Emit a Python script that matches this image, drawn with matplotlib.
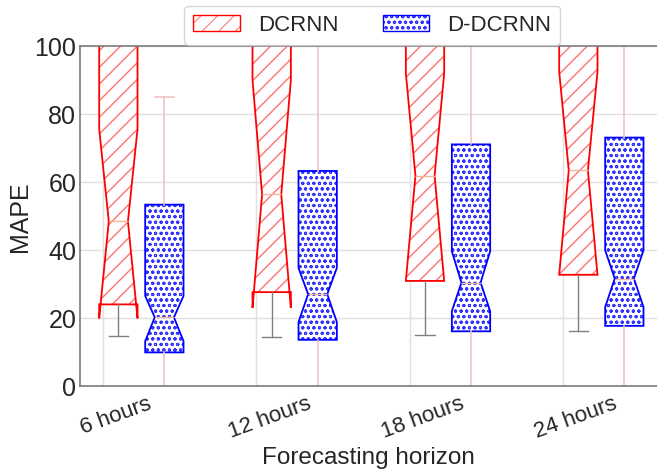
import numpy as np
import matplotlib.pyplot as plt
import matplotlib.patches as mpatches
from matplotlib.transforms import ScaledTranslation

plt.rcParams['font.family'] = ['Liberation Sans', 'DejaVu Sans']
plt.rcParams['hatch.linewidth'] = 1.0

horizons = ["6 hours", "12 hours", "18 hours", "24 hours"]

# box statistics (MAPE)
dcrnn_q1 = [24.1, 27.7, 31.0, 32.8]
dcrnn_med = [48.5, 56.4, 61.9, 63.5]
dcrnn_q3 = [130, 130, 130, 130]
dcrnn_cilo = [20.0, 23.1, 31.0, 32.8]
dcrnn_cihi = [75.6, 90.0, 92.0, 92.5]
dcrnn_wlo = [14.7, 14.5, 15.0, 16.2]
dcrnn_whi = [160, 160, 160, 160]

ddcrnn_q1 = [10.0, 13.7, 16.2, 17.8]
ddcrnn_med = [20.3, 27.1, 30.5, 31.7]
ddcrnn_q3 = [53.4, 63.3, 71.1, 73.1]
ddcrnn_cilo = [13.3, 18.9, 22.1, 23.3]
ddcrnn_cihi = [26.6, 34.8, 39.7, 40.0]
ddcrnn_wlo = [-5, -5, -5, -5]
ddcrnn_whi = [84.9, 140, 140, 140]


def stats(q1, med, q3, cilo, cihi, wlo, whi):
    out = []
    for i in range(len(q1)):
        out.append(dict(q1=q1[i], med=med[i], q3=q3[i], cilo=cilo[i], cihi=cihi[i],
                        whislo=wlo[i], whishi=whi[i], fliers=[]))
    return out


red_hatch = (1.0, 0.45, 0.45, 1.0)
blue_hatch = (0.2, 0.2, 1.0, 1.0)
dot_hatch = 'ooo'

fig = plt.figure(figsize=(6.57, 4.73), dpi=100)
ax = fig.add_axes([0.1225, 0.183, 0.8775, 0.7197])

x = np.arange(len(horizons))

b1 = ax.bxp(stats(dcrnn_q1, dcrnn_med, dcrnn_q3, dcrnn_cilo, dcrnn_cihi, dcrnn_wlo, dcrnn_whi),
            positions=x + 0.1, widths=0.25, shownotches=True, patch_artist=True,
            boxprops=dict(facecolor='white', edgecolor='red', linewidth=1.3),
            medianprops=dict(color='#f4b79c', linewidth=1.0),
            whiskerprops=dict(color='#808080', linewidth=1.0),
            capprops=dict(color='#808080', linewidth=1.0))
for p in b1['boxes']:
    p.set_hatch('//')
    p._hatch_color = red_hatch

plt.rcParams['hatch.linewidth'] = 0.75
b2 = ax.bxp(stats(ddcrnn_q1, ddcrnn_med, ddcrnn_q3, ddcrnn_cilo, ddcrnn_cihi, ddcrnn_wlo, ddcrnn_whi),
            positions=x + 0.4, widths=0.25, shownotches=True, patch_artist=True,
            boxprops=dict(facecolor='white', edgecolor='blue', linewidth=1.3),
            medianprops=dict(color='#f4b79c', linewidth=1.0),
            whiskerprops=dict(color='#efc4c4', linewidth=1.2),
            capprops=dict(color='#efc4c4', linewidth=1.2))
for p in b2['boxes']:
    p.set_hatch(dot_hatch)
    p._hatch_color = blue_hatch
    try:
        p.set_hatch_linewidth(0.75)
    except AttributeError:
        pass

ax.set_xlim(-0.147, 3.613)
ax.set_ylim(0, 100)
ax.set_xticks(x)
ax.set_xticklabels(horizons, rotation=20, fontsize=16, color='#262626')
ax.set_yticks([0, 20, 40, 60, 80, 100])
ax.set_yticklabels(['0', '20', '40', '60', '80', '100'], fontsize=18, color='#262626')
ax.tick_params(axis='y', length=0, pad=3)
ax.tick_params(axis='x', length=0, pad=5)
# labels sit a little right of their ticks in the reference
for lab in ax.get_xticklabels():
    lab.set_transform(lab.get_transform() + ScaledTranslation(0.13, 0, fig.dpi_scale_trans))
ax.set_xlabel("Forecasting horizon", fontsize=17.5, color='#262626', labelpad=3)
ax.set_ylabel("MAPE", fontsize=18, color='#262626', labelpad=2)

ax.grid(True, color='#e0e0e0', linewidth=1.0)
ax.set_axisbelow(True)
for s in ['left', 'bottom', 'top']:
    ax.spines[s].set_color('#7a7a7a')
    ax.spines[s].set_linewidth(1.2)
ax.spines['right'].set_visible(False)

plt.rcParams['hatch.linewidth'] = 1.0
h1 = mpatches.Patch(facecolor='white', edgecolor='red', hatch='//', label='DCRNN')
h1._hatch_color = red_hatch
plt.rcParams['hatch.linewidth'] = 0.75
h2 = mpatches.Patch(facecolor='white', edgecolor='blue', hatch=dot_hatch, label='D-DCRNN')
h2._hatch_color = blue_hatch
leg = ax.legend(handles=[h1, h2], loc='upper center', bbox_to_anchor=(0.506, 1.118),
                borderaxespad=0, ncol=2, fontsize=16, handlelength=2.1, handleheight=0.7,
                columnspacing=2.0, handletextpad=0.8, borderpad=0.4, frameon=True,
                fancybox=True, edgecolor='#cccccc')
for t in leg.get_texts():
    t.set_color('#262626')

fig.savefig("out.png", dpi=100)
